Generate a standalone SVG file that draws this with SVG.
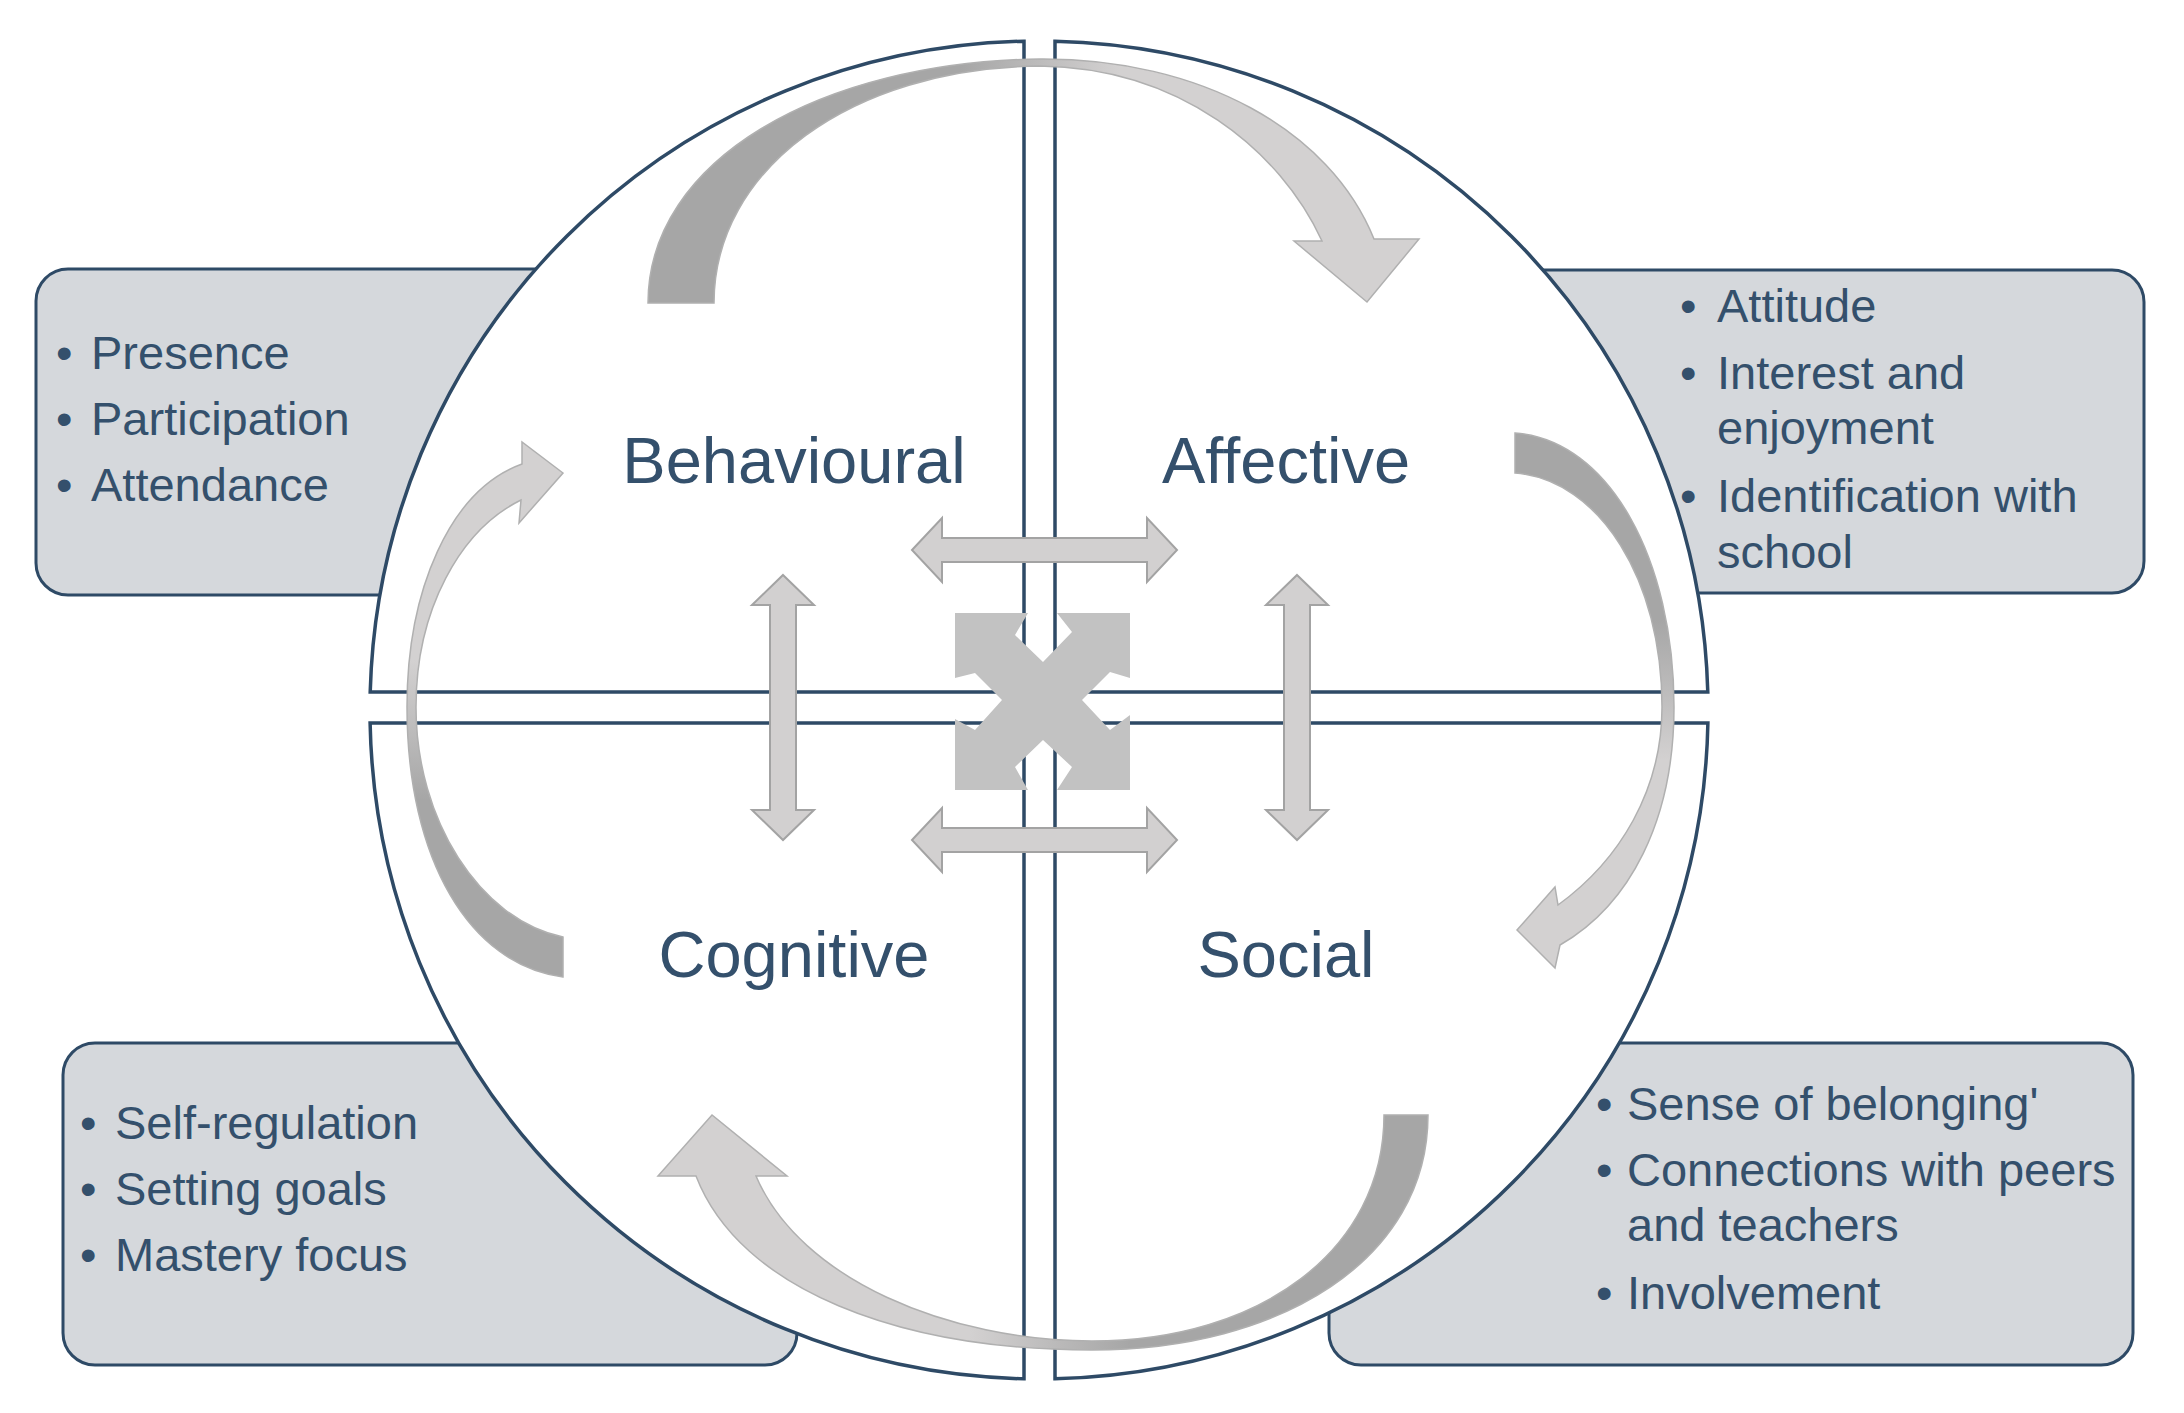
<svg xmlns="http://www.w3.org/2000/svg" width="2184" height="1413" viewBox="0 0 2184 1413">
<style>
.box{fill:#d5d8dc;stroke:#2e4a66;stroke-width:3}
.q{fill:#ffffff;stroke:#2e4a66;stroke-width:3.5}
.t{font-family:"Liberation Sans",Arial,sans-serif;font-size:47px;fill:#34506c}
.h{font-family:"Liberation Sans",Arial,sans-serif;font-size:65px;fill:#34506c;text-anchor:middle}
.sa{fill:#d2d0d0;stroke:#a3a3a3;stroke-width:2}
.ca{stroke:#b0b0b0;stroke-width:1.5}
</style>
<defs>
<linearGradient id="gTop" gradientUnits="userSpaceOnUse" x1="960" y1="0" x2="1120" y2="0"><stop offset="0" stop-color="#a6a6a6"/><stop offset="1" stop-color="#d3d1d1"/></linearGradient>
<linearGradient id="gRight" gradientUnits="userSpaceOnUse" x1="0" y1="620" x2="0" y2="760"><stop offset="0" stop-color="#a6a6a6"/><stop offset="1" stop-color="#d3d1d1"/></linearGradient>
<linearGradient id="gBot" gradientUnits="userSpaceOnUse" x1="1130" y1="0" x2="970" y2="0"><stop offset="0" stop-color="#a6a6a6"/><stop offset="1" stop-color="#d3d1d1"/></linearGradient>
<linearGradient id="gLeft" gradientUnits="userSpaceOnUse" x1="0" y1="800" x2="0" y2="660"><stop offset="0" stop-color="#a6a6a6"/><stop offset="1" stop-color="#d3d1d1"/></linearGradient>
</defs>

<g id="box-behavioural"><rect class="box" x="36" y="269" width="700" height="326" rx="32"/></g>
<g id="box-affective"><rect class="box" x="1450" y="270" width="694" height="323" rx="32"/></g>
<g id="box-cognitive"><rect class="box" x="63" y="1043" width="734" height="322" rx="32"/></g>
<g id="box-social"><rect class="box" x="1329" y="1043" width="804" height="322" rx="32"/></g>

<g id="quadrants">
<path class="q" d="M1024,692 L370.2,692 A669,669 0 0 1 1024,41.2 Z"/>
<path class="q" d="M1055,692 L1055,41.2 A669,669 0 0 1 1707.8,692 Z"/>
<path class="q" d="M1024,723 L370.1,723 A669,669 0 0 0 1024,1378.8 Z"/>
<path class="q" d="M1055,723 L1707.9,723 A669,669 0 0 1 1055,1378.8 Z"/>
</g>

<g id="connectors">
<path class="ca" fill="url(#gTop)" d="M648,303 C648,160 820,62 1040,59 C1200,58 1330,130 1374,239 L1419,239 L1367,302 L1294,241 L1322,241 C1280,150 1180,68 1040,66 C850,68 714,170 714,303 Z"/>
<path class="ca" fill="url(#gRight)" d="M1515,433 C1610,440 1674,560 1674,707 C1674,820 1630,905 1560,945 L1555,968 L1517,930 L1555,887 L1558,905 C1620,860 1662,790 1662,707 C1662,580 1600,480 1515,473 Z"/>
<path class="ca" fill="url(#gBot)" d="M1428,1115 C1428,1260 1280,1350 1092,1350 C900,1350 740,1290 696,1176 L658,1176 L712,1115 L787,1176 L756,1176 C800,1280 950,1341 1092,1341 C1260,1341 1384,1250 1384,1115 Z"/>
<path class="ca" fill="url(#gLeft)" d="M563,977 C470,965 407,860 407,707 C407,590 450,490 522,464 L522,442 L563,473 L519,523 L521,500 C460,530 416,610 416,707 C416,820 480,920 563,937 Z"/>

<path class="sa" d="M912,550 L942,518 L942,538 L1147,538 L1147,518 L1177,550 L1147,582 L1147,562 L942,562 L942,582 Z"/>
<path class="sa" d="M912,840 L942,808 L942,828 L1147,828 L1147,808 L1177,840 L1147,872 L1147,852 L942,852 L942,872 Z"/>
<path class="sa" d="M783,575 L814,605 L796,605 L796,810 L814,810 L783,840 L752,810 L770,810 L770,605 L752,605 Z"/>
<path class="sa" d="M1297,575 L1328,605 L1310,605 L1310,810 L1328,810 L1297,840 L1266,810 L1284,810 L1284,605 L1266,605 Z"/>

<path fill="#c2c2c2" fill-rule="evenodd" d="M955,613 L1130,613 L1130,790 L955,790 Z M1028,613 L1015,635 L1043,662 L1072,632 L1057,613 Z M955,678 L975,673 L1002,700 L975,730 L955,719 Z M1130,678 L1110,672 L1082,700 L1110,730 L1130,715 Z M1015,767 L1043,740 L1072,767 L1057,790 L1028,790 Z"/>
</g>

<g id="node-behavioural">
<text class="h" x="794" y="483">Behavioural</text>
<text class="t" x="56" y="369">•</text><text class="t" x="91" y="369">Presence</text>
<text class="t" x="56" y="435">•</text><text class="t" x="91" y="435">Participation</text>
<text class="t" x="56" y="501">•</text><text class="t" x="91" y="501">Attendance</text>
</g>
<g id="node-affective">
<text class="h" x="1286" y="483">Affective</text>
<text class="t" x="1680" y="322">•</text><text class="t" x="1717" y="322">Attitude</text>
<text class="t" x="1680" y="389">•</text><text class="t" x="1717" y="389">Interest and</text>
<text class="t" x="1717" y="444">enjoyment</text>
<text class="t" x="1680" y="512">•</text><text class="t" x="1717" y="512">Identification with</text>
<text class="t" x="1717" y="568">school</text>
</g>
<g id="node-cognitive">
<text class="h" x="794" y="977">Cognitive</text>
<text class="t" x="80" y="1139">•</text><text class="t" x="115" y="1139">Self-regulation</text>
<text class="t" x="80" y="1205">•</text><text class="t" x="115" y="1205">Setting goals</text>
<text class="t" x="80" y="1271">•</text><text class="t" x="115" y="1271">Mastery focus</text>
</g>
<g id="node-social">
<text class="h" x="1286" y="977">Social</text>
<text class="t" x="1596" y="1120">•</text><text class="t" x="1627" y="1120">Sense of belonging'</text>
<text class="t" x="1596" y="1186">•</text><text class="t" x="1627" y="1186">Connections with peers</text>
<text class="t" x="1627" y="1241">and teachers</text>
<text class="t" x="1596" y="1309">•</text><text class="t" x="1627" y="1309">Involvement</text>
</g>
</svg>
